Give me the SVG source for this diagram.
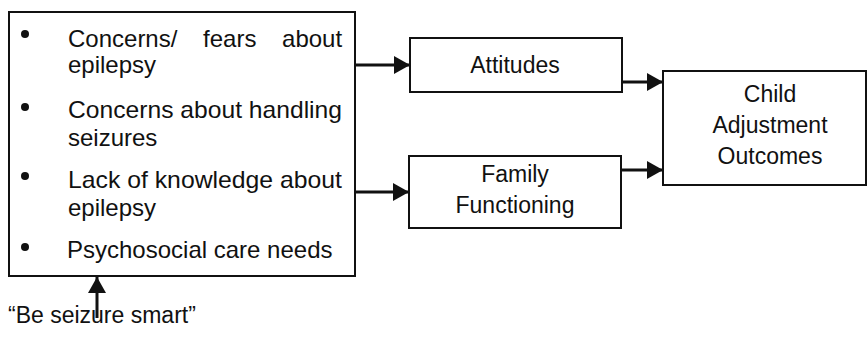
<svg xmlns="http://www.w3.org/2000/svg" width="868" height="337" viewBox="0 0 868 337">
<style>
.box{fill:#fff;stroke:#111;stroke-width:2}
.t{font-family:"Liberation Sans",Arial,sans-serif;font-size:23px;fill:#111}
.tl{font-family:"Liberation Sans",Arial,sans-serif;font-size:24px;fill:#111}
.c{stroke:#111;stroke-width:3;fill:none;marker-end:url(#ah)}
</style>
<defs>
<marker id="ah" markerUnits="userSpaceOnUse" markerWidth="16" markerHeight="18" viewBox="0 0 16 18" refX="16" refY="9" orient="auto">
<path d="M0,0 L16,9 L0,18 z" fill="#111"/>
</marker>
</defs>
<rect width="868" height="337" fill="#fff"/>
<g id="connectors">
<line class="c" x1="356" y1="65" x2="410" y2="65"/>
<line class="c" x1="356" y1="192" x2="409" y2="192"/>
<line class="c" x1="622" y1="82" x2="663" y2="82"/>
<line class="c" x1="621" y1="170" x2="663" y2="170"/>
<line class="c" x1="97" y1="318" x2="97" y2="277"/>
</g>
<g id="factors">
<rect class="box" x="9" y="12" width="346" height="264"/>
<circle cx="25" cy="34" r="4" fill="#111"/>
<circle cx="25" cy="107" r="4" fill="#111"/>
<circle cx="25" cy="176" r="4" fill="#111"/>
<circle cx="25" cy="247" r="4" fill="#111"/>
<text class="tl" x="68" y="47" word-spacing="19">Concerns/ fears about</text>
<text class="tl" x="68" y="73">epilepsy</text>
<text class="tl" x="68" y="118" textLength="274" lengthAdjust="spacingAndGlyphs">Concerns about handling</text>
<text class="tl" x="68" y="146">seizures</text>
<text class="tl" x="68" y="188" textLength="274" lengthAdjust="spacingAndGlyphs">Lack of knowledge about</text>
<text class="tl" x="68" y="216">epilepsy</text>
<text class="tl" x="67" y="258">Psychosocial care needs</text>
</g>
<g id="attitudes">
<rect class="box" x="410" y="38" width="212" height="54"/>
<text class="t" x="515" y="73" text-anchor="middle">Attitudes</text>
</g>
<g id="family">
<rect class="box" x="409" y="156" width="212" height="72"/>
<text class="t" x="515" y="182" text-anchor="middle">Family</text>
<text class="t" x="515" y="213" text-anchor="middle">Functioning</text>
</g>
<g id="outcomes">
<rect class="box" x="663" y="71" width="203" height="114"/>
<text class="t" x="770" y="102" text-anchor="middle">Child</text>
<text class="t" x="770" y="133" text-anchor="middle">Adjustment</text>
<text class="t" x="770" y="164" text-anchor="middle">Outcomes</text>
</g>
<g id="slogan">
<text class="t" x="8" y="323">“Be seizure smart”</text>
</g>
</svg>
